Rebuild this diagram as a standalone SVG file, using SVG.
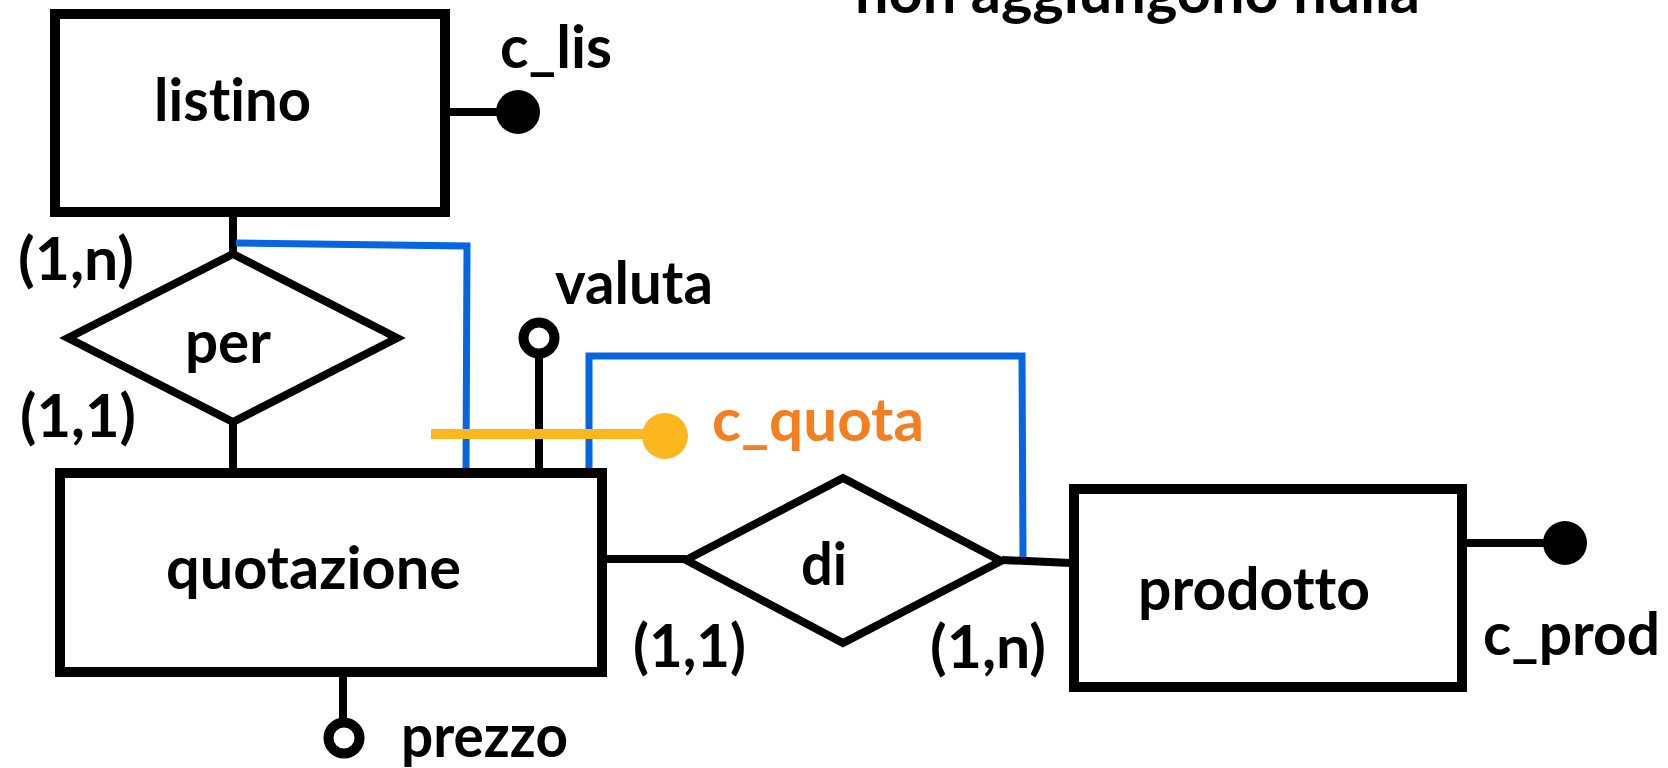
<svg xmlns="http://www.w3.org/2000/svg" width="1668" height="768" viewBox="0 0 1668 768">
<style>
text{font-family:Lato,"Open Sans","Liberation Sans",sans-serif;font-weight:bold;font-size:59px;fill:#000;font-variant-ligatures:none;font-feature-settings:"liga" 0,"dlig" 0}
.ent{fill:#fff;stroke:#000;stroke-width:10}
.rel{fill:#fff;stroke:#000;stroke-width:8;stroke-linejoin:miter}
.ln{stroke:#000;stroke-width:8;fill:none}
.blue{stroke:#0566E0;stroke-width:7;fill:none}
.key{fill:#000}
.att{fill:#fff;stroke:#000;stroke-width:10}
</style>
<rect width="1668" height="768" fill="#fff"/>
<text x="855" y="13" textLength="565" lengthAdjust="spacingAndGlyphs">non aggiungono nulla</text>
<g id="connectors">
<line class="ln" x1="233" y1="217" x2="233" y2="252"/>
<line class="ln" x1="233" y1="424" x2="233" y2="470"/>
<line class="ln" x1="606" y1="559" x2="686" y2="559"/>
<line class="ln" x1="1002" y1="560" x2="1071" y2="563"/>
<line class="ln" x1="450" y1="112" x2="500" y2="112"/>
<line class="ln" x1="1467" y1="543" x2="1548" y2="543"/>
<line class="ln" x1="539" y1="353" x2="539" y2="470"/>
<line class="ln" x1="343" y1="677" x2="343" y2="722"/>
<polyline class="blue" points="236,243 467,246 466,470"/>
<polyline class="blue" points="589,470 589,356 1022,356 1023,557"/>
<line stroke="#FDB71E" stroke-width="10" x1="431" y1="434" x2="650" y2="434"/>
</g>
<g id="listino">
<rect class="ent" x="55" y="14" width="390" height="198"/>
<text x="154" y="121" textLength="157" lengthAdjust="spacingAndGlyphs">listino</text>
</g>
<g id="c_lis">
<circle class="key" cx="518" cy="112" r="22"/>
<text x="500" y="68" textLength="112" lengthAdjust="spacingAndGlyphs">c_lis</text>
</g>
<g id="per">
<polygon class="rel" points="233,254 68,338 233,422 397,338"/>
<text x="185" y="363" textLength="86" lengthAdjust="spacingAndGlyphs">per</text>
<text x="18" y="280" textLength="116" lengthAdjust="spacingAndGlyphs">(1,n)</text>
<text x="20" y="437" textLength="116" lengthAdjust="spacingAndGlyphs">(1,1)</text>
</g>
<g id="valuta">
<circle class="att" cx="539" cy="338" r="15.5"/>
<text x="555" y="304" textLength="158" lengthAdjust="spacingAndGlyphs">valuta</text>
</g>
<g id="c_quota">
<circle fill="#FDB71E" cx="665" cy="436" r="23"/>
<text x="712" y="441" textLength="212" lengthAdjust="spacingAndGlyphs" style="fill:#F47E20">c_quota</text>
</g>
<g id="quotazione">
<rect class="ent" x="60" y="473" width="542" height="199"/>
<text x="166" y="589" textLength="295" lengthAdjust="spacingAndGlyphs">quotazione</text>
</g>
<g id="prezzo">
<circle class="att" cx="344" cy="738" r="15.5"/>
<text x="401" y="757" textLength="167" lengthAdjust="spacingAndGlyphs">prezzo</text>
</g>
<g id="di">
<polygon class="rel" points="686,560 843,478 1001,561 843,643"/>
<text x="801" y="585" textLength="46" lengthAdjust="spacingAndGlyphs">di</text>
<text x="633" y="667" textLength="113" lengthAdjust="spacingAndGlyphs">(1,1)</text>
<text x="930" y="668" textLength="116" lengthAdjust="spacingAndGlyphs">(1,n)</text>
</g>
<g id="prodotto">
<rect class="ent" x="1074" y="489" width="388" height="198"/>
<text x="1138" y="610" textLength="232" lengthAdjust="spacingAndGlyphs">prodotto</text>
</g>
<g id="c_prod">
<circle class="key" cx="1565" cy="543" r="22"/>
<text x="1483" y="655" textLength="177" lengthAdjust="spacingAndGlyphs">c_prod</text>
</g>
</svg>
